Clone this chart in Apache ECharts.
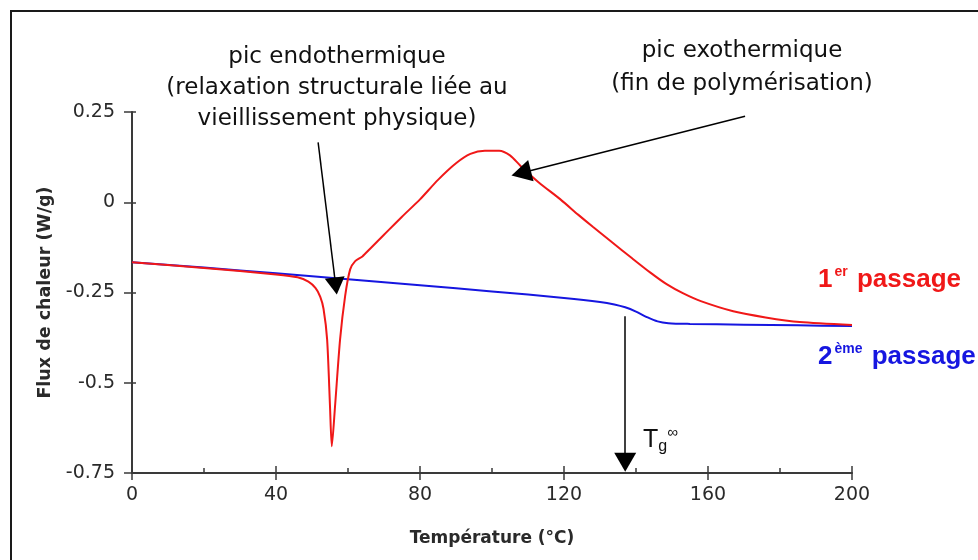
<!DOCTYPE html>
<html>
<head>
<meta charset="utf-8">
<script src="https://cdn.jsdelivr.net/npm/echarts@6/dist/echarts.min.js"></script>
<style>
  html, body { margin: 0; padding: 0; background: #fff; }
  #chart { width: 978px; height: 560px; }
</style>
</head>
<body>
<div id="chart"></div>
<script>
// DSC thermogram: heat flux vs temperature, first and second heating runs
const tempPass1 = [0, 20, 40, 46, 49, 51, 52.3, 53.2, 54.2, 55, 55.5, 56.4, 57.8, 59.2, 60.6, 62, 64, 66, 70, 75, 80, 85, 90, 94, 98, 102, 105, 108, 113, 119, 124, 128, 133, 139, 144, 148.5, 153, 158, 167, 176, 185.5, 200];
const fluxPass1 = [-0.166, -0.182, -0.200, -0.208, -0.220, -0.238, -0.262, -0.295, -0.38, -0.565, -0.676, -0.565, -0.38, -0.26, -0.186, -0.163, -0.150, -0.130, -0.090, -0.040, 0.008, 0.062, 0.108, 0.134, 0.143, 0.143, 0.130, 0.100, 0.055, 0.008, -0.035, -0.068, -0.108, -0.156, -0.195, -0.227, -0.252, -0.274, -0.302, -0.319, -0.332, -0.340];

const tempPass2 = [0, 20, 40, 60, 80, 100, 120, 130, 134, 137, 140, 143, 146, 149, 155, 170, 185, 200];
const fluxPass2 = [-0.166, -0.181, -0.197, -0.213, -0.230, -0.247, -0.265, -0.276, -0.283, -0.291, -0.303, -0.318, -0.330, -0.335, -0.337, -0.339, -0.341, -0.343];

const xTicks = { min: 0, max: 200, step: 40 };
const yTicks = { min: -0.75, max: 0.25, step: 0.25 };

// annotation arrows in data coordinates: [start, head]
const arrowEndo = [[51.7, 0.166], [56.6, -0.232]];
const arrowExo = [[170.3, 0.238], [108.1, 0.081]];
const arrowTg = [[137, -0.316], [137, -0.72]];

const toPairs = (xs, ys) => xs.map((x, i) => [x, ys[i]]);

const RED = '#f01818';
const BLUE = '#1616e0';
const AXIS = '#3a3a3a';
const TXT = '#2a2a2a';
const SANS = '"DejaVu Sans", sans-serif';
const ARIAL = '"Liberation Sans", Arial, sans-serif';

const arrowLine = (pairs) => ({
  symbol: ['none', 'triangle'],
  silent: true,
  animation: false,
  label: { show: false },
  lineStyle: { color: '#000', width: 1.5, type: 'solid' },
  itemStyle: { color: '#000' },
  data: pairs.map(([p, size]) => [{ coord: p[0] }, { coord: p[1], symbolSize: size }])
});

const chart = echarts.init(document.getElementById('chart'), null, { renderer: 'canvas' });

const baseX = {
  type: 'value', min: xTicks.min, max: xTicks.max, interval: xTicks.step,
  position: 'bottom', splitLine: { show: false }
};
const baseY = {
  type: 'value', min: yTicks.min, max: yTicks.max, interval: yTicks.step,
  position: 'left', splitLine: { show: false }
};

chart.setOption({
  backgroundColor: '#fff',
  animation: false,
  grid: { left: 132, right: 126, top: 112, bottom: 87 },
  xAxis: [
    Object.assign({}, baseX, {
      name: 'Température (°C)',
      nameLocation: 'middle',
      nameGap: 57,
      nameTextStyle: { fontFamily: SANS, fontWeight: 'bold', fontSize: 17, color: TXT },
      axisLine: { show: true, onZero: false, lineStyle: { color: AXIS, width: 2 } },
      axisTick: { show: true, inside: true, length: 7, lineStyle: { color: AXIS, width: 1.5 } },
      minorTick: { show: true, splitNumber: 2, length: 5, lineStyle: { color: AXIS, width: 1.5 } },
      axisLabel: { fontFamily: SANS, fontSize: 19, color: TXT, margin: 13 }
    }),
    Object.assign({}, baseX, {
      axisLine: { show: false, onZero: false },
      axisTick: { show: true, inside: false, length: 7, lineStyle: { color: AXIS, width: 1.5 } },
      axisLabel: { show: false }
    })
  ],
  yAxis: [
    Object.assign({}, baseY, {
      name: 'Flux de chaleur (W/g)',
      nameLocation: 'middle',
      nameGap: 73,
      nameRotate: 90,
      nameTextStyle: { fontFamily: SANS, fontWeight: 'bold', fontSize: 17.5, color: TXT },
      axisLine: { show: true, onZero: false, lineStyle: { color: AXIS, width: 2 } },
      axisTick: { show: true, inside: false, length: 8, lineStyle: { color: AXIS, width: 1.5 } },
      axisLabel: { fontFamily: SANS, fontSize: 19, color: TXT, margin: 17 }
    }),
    Object.assign({}, baseY, {
      axisLine: { show: false, onZero: false },
      axisTick: { show: true, inside: true, length: 4, lineStyle: { color: AXIS, width: 1.5 } },
      axisLabel: { show: false }
    })
  ],
  series: [
    {
      name: '2ème passage',
      type: 'line',
      data: toPairs(tempPass2, fluxPass2),
      showSymbol: false,
      smooth: 0.3,
      lineStyle: { color: BLUE, width: 2 },
      z: 2,
      markLine: arrowLine([[arrowTg, [22, 19]]])
    },
    {
      name: '1er passage',
      type: 'line',
      data: toPairs(tempPass1, fluxPass1),
      showSymbol: false,
      smooth: 0.25,
      lineStyle: { color: RED, width: 2 },
      z: 3,
      markLine: arrowLine([[arrowEndo, [20, 17]], [arrowExo, [22, 20]]])
    }
  ],
  graphic: [
    {
      type: 'rect', silent: true, z: 100,
      shape: { x: 11, y: 11, width: 1000, height: 600 },
      style: { fill: 'none', stroke: '#1a1a1a', lineWidth: 2 }
    },
    {
      type: 'text', silent: true,
      style: {
        x: 337, y: 88, align: 'center', verticalAlign: 'middle',
        text: 'pic endothermique\n(relaxation structurale liée au\nvieillissement physique)',
        font: '23px ' + SANS, lineHeight: 31, fill: '#111'
      }
    },
    {
      type: 'text', silent: true,
      style: {
        x: 742, y: 68, align: 'center', verticalAlign: 'middle',
        text: 'pic exothermique\n(fin de polymérisation)',
        font: '23px ' + SANS, lineHeight: 33, fill: '#111'
      }
    },
    {
      type: 'text', silent: true,
      style: {
        x: 818, y: 280, align: 'left', verticalAlign: 'middle',
        text: '{n|1}{s|er}{n| passage}',
        fill: RED,
        rich: {
          n: { fontFamily: ARIAL, fontWeight: 'bold', fontSize: 26, lineHeight: 30, fill: RED },
          s: { fontFamily: ARIAL, fontWeight: 'bold', fontSize: 14, lineHeight: 16, verticalAlign: 'top', padding: [0, 2, 0, 2], fill: RED }
        }
      }
    },
    {
      type: 'text', silent: true,
      style: {
        x: 818, y: 357, align: 'left', verticalAlign: 'middle',
        text: '{n|2}{s|ème}{n| passage}',
        fill: BLUE,
        rich: {
          n: { fontFamily: ARIAL, fontWeight: 'bold', fontSize: 26, lineHeight: 30, fill: BLUE },
          s: { fontFamily: ARIAL, fontWeight: 'bold', fontSize: 14, lineHeight: 16, verticalAlign: 'top', padding: [0, 2, 0, 2], fill: BLUE }
        }
      }
    },
    {
      type: 'text', silent: true,
      style: {
        x: 643, y: 440, align: 'left', verticalAlign: 'middle',
        text: '{t|T}{g|g}{i|∞}',
        fill: '#111',
        rich: {
          t: { fontFamily: ARIAL, fontSize: 25, lineHeight: 30, fill: '#111' },
          g: { fontFamily: ARIAL, fontSize: 16, lineHeight: 22, verticalAlign: 'bottom', fill: '#111' },
          i: { fontFamily: ARIAL, fontSize: 15, lineHeight: 16, verticalAlign: 'top', fill: '#111' }
        }
      }
    }
  ]
});
</script>
</body>
</html>
